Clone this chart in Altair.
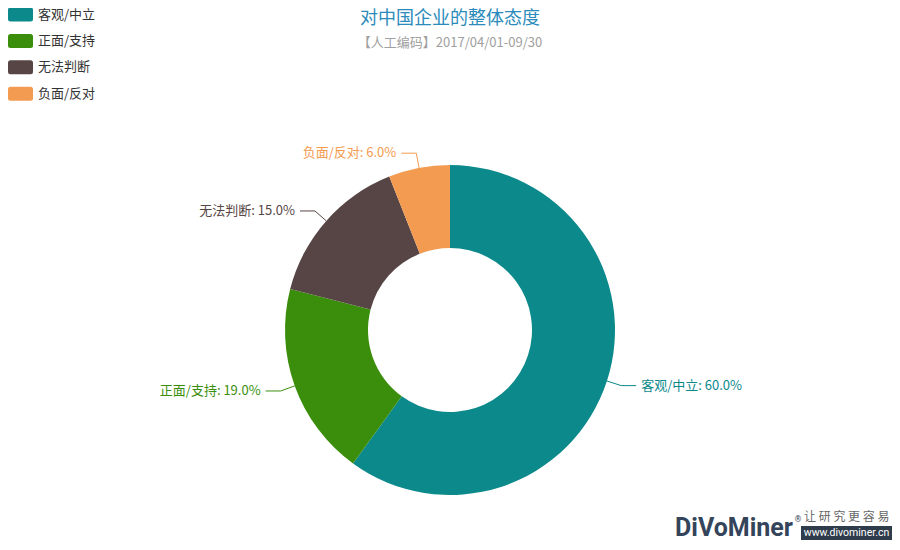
import numpy as np
import pandas as pd
import altair as alt

# data
categories = ["客观/中立", "正面/支持", "无法判断", "负面/反对"]
shares = [60.0, 19.0, 15.0, 6.0]
colors = ["#0B898B", "#3A8E0B", "#574545", "#F39B50"]

title_text = "对中国企业的整体态度"
subtitle_text = "【人工编码】2017/04/01-09/30"

FONT = "Noto Sans CJK SC"
TOP = 6
W, H = 884, 534 - TOP
CX, CY = 442, 316      # donut centre inside the plot area
R_OUT, R_IN = 165, 82
LEN1, LEN2 = 15, 15    # leader line pieces

df = pd.DataFrame({"cat": categories, "share": shares, "idx": range(len(categories))})
df["label"] = [f"{c}: {s:.1f}%" for c, s in zip(categories, shares)]
mid = (df["share"].cumsum() - df["share"] / 2) / df["share"].sum() * 2 * np.pi
df["sin"] = np.sin(mid)
df["cos"] = np.cos(mid)
df["side"] = np.where(df["sin"] >= 0, 1, -1)

# leader lines: out along the mid angle, then sideways
pts = []
for _, r in df.iterrows():
    x1, y1 = R_OUT * r["sin"], -R_OUT * r["cos"]
    x2, y2 = (R_OUT + LEN1) * r["sin"], -(R_OUT + LEN1) * r["cos"]
    x3 = x2 + LEN2 * r["side"]
    for k, (px, py) in enumerate([(x1, y1), (x2, y2), (x3, y2)]):
        pts.append({"cat": r["cat"], "k": k, "px": px, "py": py})
lines = pd.DataFrame(pts)

df["tx"] = (R_OUT + LEN1) * df["sin"] + (LEN2 + 5) * df["side"]
df["ty"] = -(R_OUT + LEN1) * df["cos"]

xs = alt.Scale(domain=[-CX, W - CX], nice=False, zero=False)
ys = alt.Scale(domain=[H - CY, -CY], nice=False, zero=False)
cs = alt.Scale(domain=categories, range=colors)

rect_path = ("M-0.8,-0.56 H0.8 Q1,-0.56 1,-0.36 V0.36 Q1,0.56 0.8,0.56 "
             "H-0.8 Q-1,0.56 -1,0.36 V-0.36 Q-1,-0.56 -0.8,-0.56 Z")

donut = alt.Chart(df).mark_arc(innerRadius=R_IN, outerRadius=R_OUT).encode(
    theta=alt.Theta("share:Q", stack=True),
    order=alt.Order("idx:Q"),
    color=alt.Color("cat:N", scale=cs, legend=alt.Legend(
        title=None, orient="none", legendX=0, legendY=-12,
        symbolType=rect_path, symbolSize=625, symbolStrokeWidth=0,
        symbolOpacity=1, labelFont=FONT, labelFontSize=13,
        labelColor="#333333", labelOffset=5, rowPadding=6.4)),
    x=alt.value(CX),
    y=alt.value(CY),
)

leader = alt.Chart(lines).mark_line(strokeWidth=1).encode(
    x=alt.X("px:Q", scale=xs, axis=None),
    y=alt.Y("py:Q", scale=ys, axis=None),
    detail="cat:N",
    order="k:Q",
    color=alt.Color("cat:N", scale=cs, legend=None),
)


def labels(side, align):
    return alt.Chart(df).transform_filter(f"datum.side == {side}").mark_text(
        align=align, baseline="middle", font=FONT, fontSize=13).encode(
        x=alt.X("tx:Q", scale=xs, axis=None),
        y=alt.Y("ty:Q", scale=ys, axis=None),
        text="label:N",
        color=alt.Color("cat:N", scale=cs, legend=None),
    )


right_lbl = labels(1, "left")
left_lbl = labels(-1, "right")

one = pd.DataFrame({"n": [0]})   # single row for the fixed texts


def note(text, x, y, **kw):
    return alt.Chart(one).mark_text(text=text, **kw).encode(
        x=alt.value(x), y=alt.value(y))


# title and subtitle
title = note(title_text, CX, 5, font=FONT, fontSize=18, color="#2B8BBA",
             align="center", baseline="middle")
subtitle = note(subtitle_text, CX, 29, font=FONT, fontSize=13, color="#A0A0A0",
                align="center", baseline="middle")

# watermark, bottom right
logo_bg = alt.Chart(one).mark_rect(color="#2F3C4C").encode(
    x=alt.value(793), x2=alt.value(884), y=alt.value(512), y2=alt.value(526))
logo = note("DiVoMiner", 785, 522, font="Roboto", fontSize=25, fontWeight="bold",
            color="#34445A", align="right", baseline="alphabetic")
logo_r = note("®", 790, 506, font="DejaVu Sans", fontSize=8, color="#34445A")
logo_cn = note("让 研 究 更 容 易", 796, 503, font=FONT, fontSize=12,
               color="#666666", align="left", baseline="middle")
logo_url = note("www.divominer.cn", 838.5, 519, font="Roboto", fontSize=10.5,
                color="white", align="center", baseline="middle")

chart = alt.layer(
    donut, leader, right_lbl, left_lbl, title, subtitle,
    logo_bg, logo, logo_r, logo_cn, logo_url
).properties(
    width=W, height=H,
    padding={"left": 0, "right": 0, "top": TOP, "bottom": 0},
    autosize=alt.AutoSizeParams(type="none"),
).configure_view(stroke=None)

chart.save("out.html", embed_options={"renderer": "svg", "actions": False})
